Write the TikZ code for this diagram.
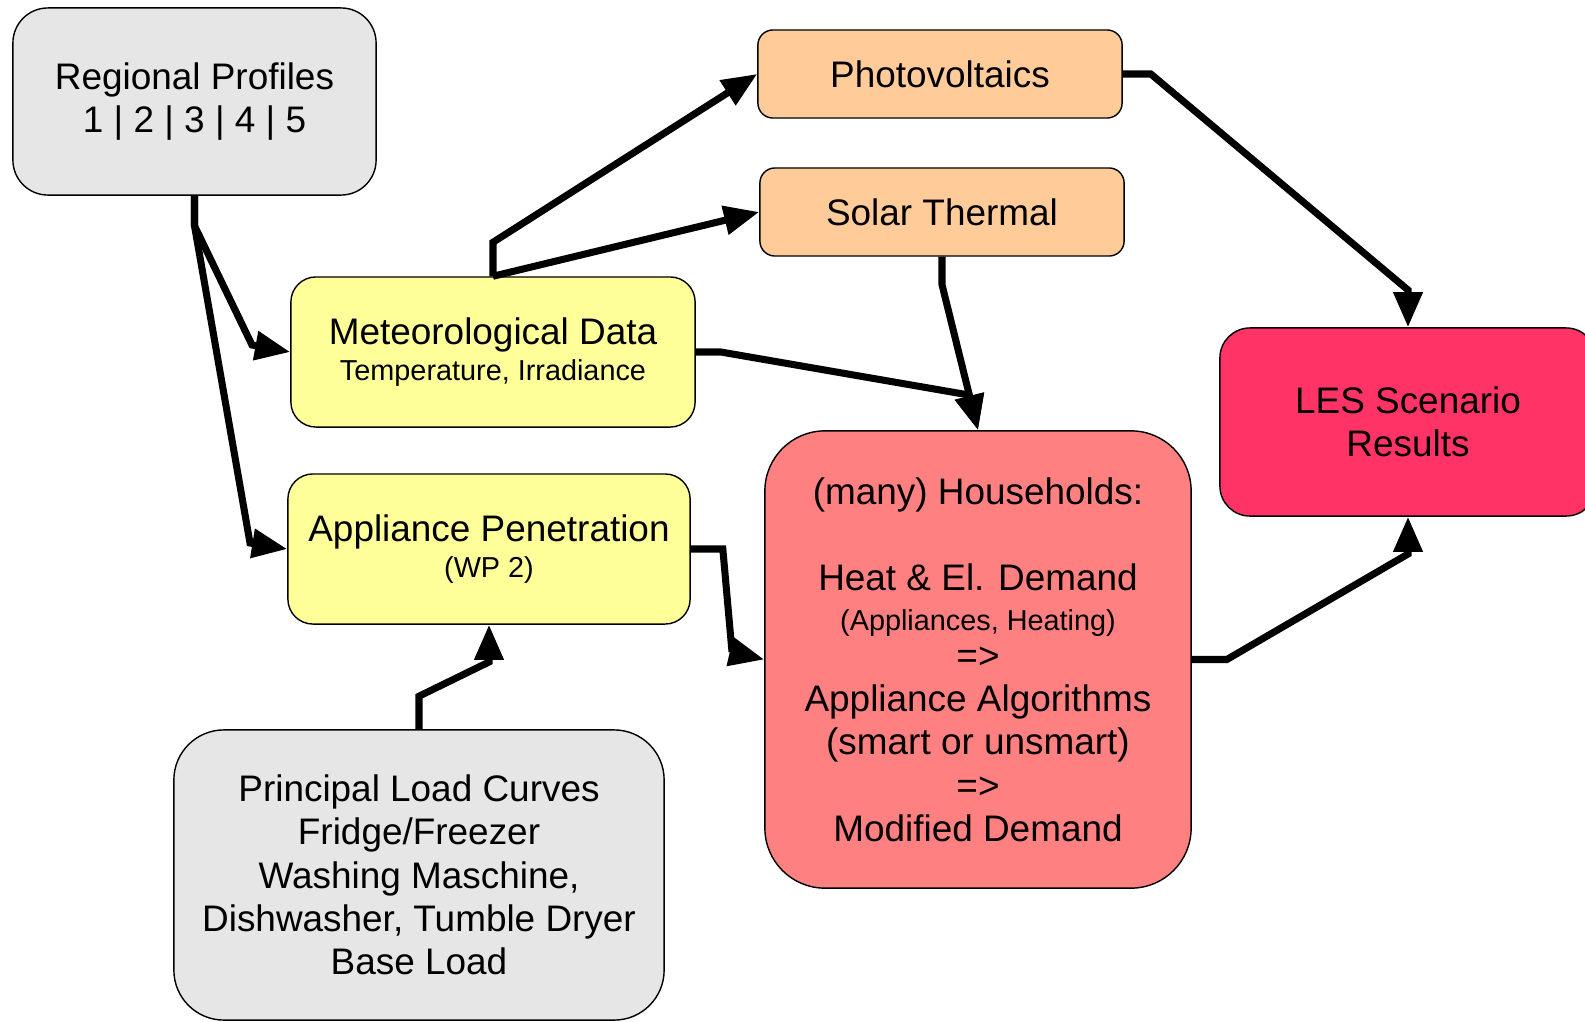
\documentclass[tikz,border=0pt]{standalone}
\usepackage{fontspec}
\setmainfont{Liberation Sans}
\usetikzlibrary{arrows.meta}
\definecolor{boxgray}{HTML}{E6E6E6}
\definecolor{boxorange}{HTML}{FFCC99}
\definecolor{boxyellow}{HTML}{FFFF99}
\definecolor{boxsalmon}{HTML}{FF8080}
\definecolor{boxred}{HTML}{FF3366}
\tikzset{
  box/.style={draw, line width=0.4pt, rounded corners=#1, align=center, inner sep=0pt,
    font=\fontsize{10.5}{12.3}\selectfont},
  box/.default=0.2cm,
  flow/.style={line width=2pt, -{Triangle[length=10pt,width=8pt]}},
}
\newcommand{\smalltext}[1]{{\fontsize{8.2}{9.6}\selectfont #1}}

\begin{document}
\begin{tikzpicture}[x=0.01cm, y=-0.01cm]
\useasboundingbox (0,0) rectangle (1585,1021);
% boxes
\node[box=0.35cm, fill=boxgray, minimum width=3.63cm, minimum height=1.87cm] (RP) at (194.5,101.5)
  {Regional Profiles\\1 | 2 | 3 | 4 | 5};
\node[box=0.15cm, fill=boxorange, minimum width=3.64cm, minimum height=0.88cm] (PV) at (940,74) {Photovoltaics};
\node[box=0.15cm, fill=boxorange, minimum width=3.64cm, minimum height=0.88cm] (ST) at (942,212) {Solar Thermal};
\node[box=0.25cm, fill=boxyellow, minimum width=4.04cm, minimum height=1.5cm] (MD) at (493,352)
  {Meteorological Data\\[-2pt]\smalltext{Temperature, Irradiance}};
\node[box=0.25cm, fill=boxyellow, minimum width=4.02cm, minimum height=1.5cm] (AP) at (489,549)
  {Appliance Penetration\\[-2pt]\smalltext{(WP 2)}};
\node[box=0.6cm, fill=boxsalmon, minimum width=4.26cm, minimum height=4.57cm] (HH) at (978,659.5)
  {(many) Households:\\[12.3pt]Heat \& El. Demand\\[-1pt]\smalltext{(Appliances, Heating)}\\[-1.5pt]
   =>\\Appliance Algorithms\\(smart or unsmart)\\=>\\Modified Demand};
\node[box=0.3cm, fill=boxred, minimum width=3.76cm, minimum height=1.88cm] (LES) at (1408,422)
  {LES Scenario\\Results};
\node[box=0.5cm, fill=boxgray, minimum width=4.9cm, minimum height=2.9cm] (PLC) at (419,875)
  {Principal Load Curves\\Fridge/Freezer\\Washing Maschine,\\Dishwasher, Tumble Dryer\\Base Load};
% connectors
\draw[flow] (RP.south) -- ++(0,30) -- (252,345) -- (MD.west);
\draw[flow] (RP.south) -- ++(0,30) -- (250,543) -- (AP.west);
\draw[flow] (MD.north) -- ++(0,-34) -- (PV.west);
\draw[flow] (MD.north) -- (ST.west);
\draw[flow] (MD.east) -- ++(25,0) -- (969,395) -- (HH.north);
\draw[flow] (ST.south) -- ++(0,28) -- (HH.north);
\draw[flow] (AP.east) -- ++(32,0) -- (732,652) -- (HH.west);
\draw[flow] (PV.east) -- ++(28,0) -- (1408,290) -- (LES.north);
\draw[flow] (HH.east) -- ++(35,0) -- (1408,554) -- (LES.south);
\draw[flow] (PLC.north) -- ++(0,-33) -- (489,662) -- (AP.south);
\end{tikzpicture}
\end{document}
